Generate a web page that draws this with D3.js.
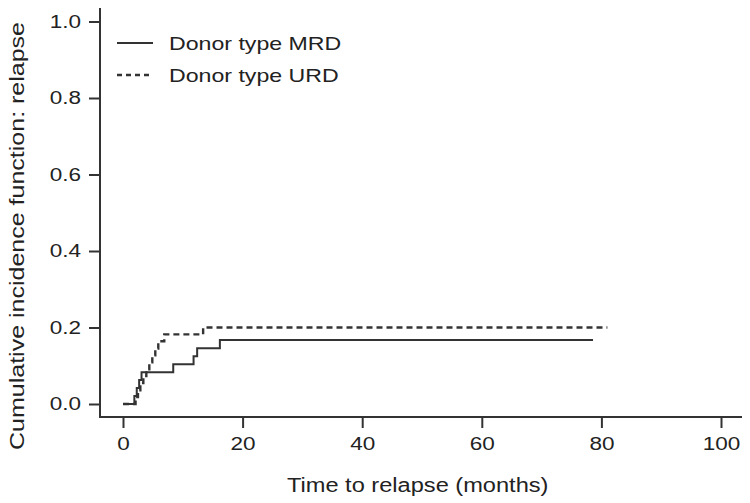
<!DOCTYPE html>
<html>
<head>
<meta charset="utf-8">
<script src="https://cdn.jsdelivr.net/npm/d3@7"></script>
<style>
  body { margin: 0; background: #fff; }
  text { font-family: "Liberation Sans", Arial, sans-serif; fill: #222; }
</style>
</head>
<body>
<script>
var width  = 750;
var height = 503;

// cumulative incidence (months, proportion)
var mrdTimes = [0, 1.9, 2.3, 2.7, 3.1, 8.4, 11.8, 12.4, 16.2, 78.6];
var mrdCif   = [0, 0.021, 0.042, 0.063, 0.083, 0.104, 0.125, 0.146, 0.167, 0.167];
var urdTimes = [0, 2.1, 2.5, 2.9, 3.4, 3.9, 4.4, 4.9, 5.4, 5.9, 6.9, 13.4, 81];
var urdCif   = [0, 0.018, 0.036, 0.055, 0.073, 0.091, 0.109, 0.127, 0.145, 0.164, 0.182, 0.200, 0.200];

var seriesNames = ['Donor type MRD', 'Donor type URD'];
var xTicks = [0, 20, 40, 60, 80, 100];
var yTicks = [0, 0.2, 0.4, 0.6, 0.8, 1.0];

var stretch = 1.25; // reference glyphs are wide

var svg = d3.select('body').append('svg')
    .attr('width', width)
    .attr('height', height);

var x = d3.scaleLinear().domain([0, 100]).range([123, 721]);
var y = d3.scaleLinear().domain([0, 1]).range([404, 21.5]);

function widen(sel, f) {
  sel.each(function() {
    var w = this.getComputedTextLength();
    d3.select(this).attr('textLength', w * (f || stretch)).attr('lengthAdjust', 'spacingAndGlyphs');
  });
}

// axes
var xAxis = svg.append('g')
    .attr('transform', 'translate(0,417)')
    .call(d3.axisBottom(x).tickValues(xTicks).tickSize(11).tickPadding(9).tickFormat(d3.format('d')));
var yAxis = svg.append('g')
    .attr('transform', 'translate(100,0)')
    .call(d3.axisLeft(y).tickValues(yTicks).tickSize(11).tickPadding(8).tickFormat(d3.format('.1f')));

[xAxis, yAxis].forEach(function(g) {
  g.select('.domain').remove();
  g.selectAll('.tick line').attr('stroke', '#333').attr('stroke-width', 2);
  g.selectAll('.tick text').attr('font-size', 18).attr('fill', '#222')
    .style('font-family', '"Liberation Sans", Arial, sans-serif')
    .call(widen, stretch);
});

svg.append('path')
  .attr('d', 'M100,8 V417 H742')
  .attr('fill', 'none')
  .attr('stroke', '#333')
  .attr('stroke-width', 2);

// axis titles
svg.append('text')
  .attr('x', 287).attr('y', 492)
  .attr('font-size', 20)
  .text('Time to relapse (months)')
  .call(widen, 1.18);

svg.append('text')
  .attr('transform', 'translate(24,450) rotate(-90)')
  .attr('font-size', 20)
  .text('Cumulative incidence function: relapse')
  .call(widen, 1.25);

// curves
var line = d3.line()
    .x(function(d) { return x(d[0]); })
    .y(function(d) { return y(d[1]); })
    .curve(d3.curveStepAfter);

svg.append('path')
  .datum(d3.zip(urdTimes, urdCif))
  .attr('d', line)
  .attr('fill', 'none')
  .attr('stroke', '#333')
  .attr('stroke-width', 2.4)
  .attr('stroke-dasharray', '6,4');

svg.append('path')
  .datum(d3.zip(mrdTimes, mrdCif))
  .attr('d', line)
  .attr('fill', 'none')
  .attr('stroke', '#333')
  .attr('stroke-width', 2);

// legend
var legend = svg.append('g');
seriesNames.forEach(function(name, i) {
  var ly = 43 + i * 32;
  legend.append('line')
    .attr('x1', 117).attr('x2', 153)
    .attr('y1', ly).attr('y2', ly)
    .attr('stroke', '#333')
    .attr('stroke-width', i ? 2.4 : 2)
    .attr('stroke-dasharray', i ? '5,4' : null);
  legend.append('text')
    .attr('x', 169).attr('y', ly + 7)
    .attr('font-size', 18.5)
    .text(name)
    .call(widen, 1.25);
});
</script>
</body>
</html>
